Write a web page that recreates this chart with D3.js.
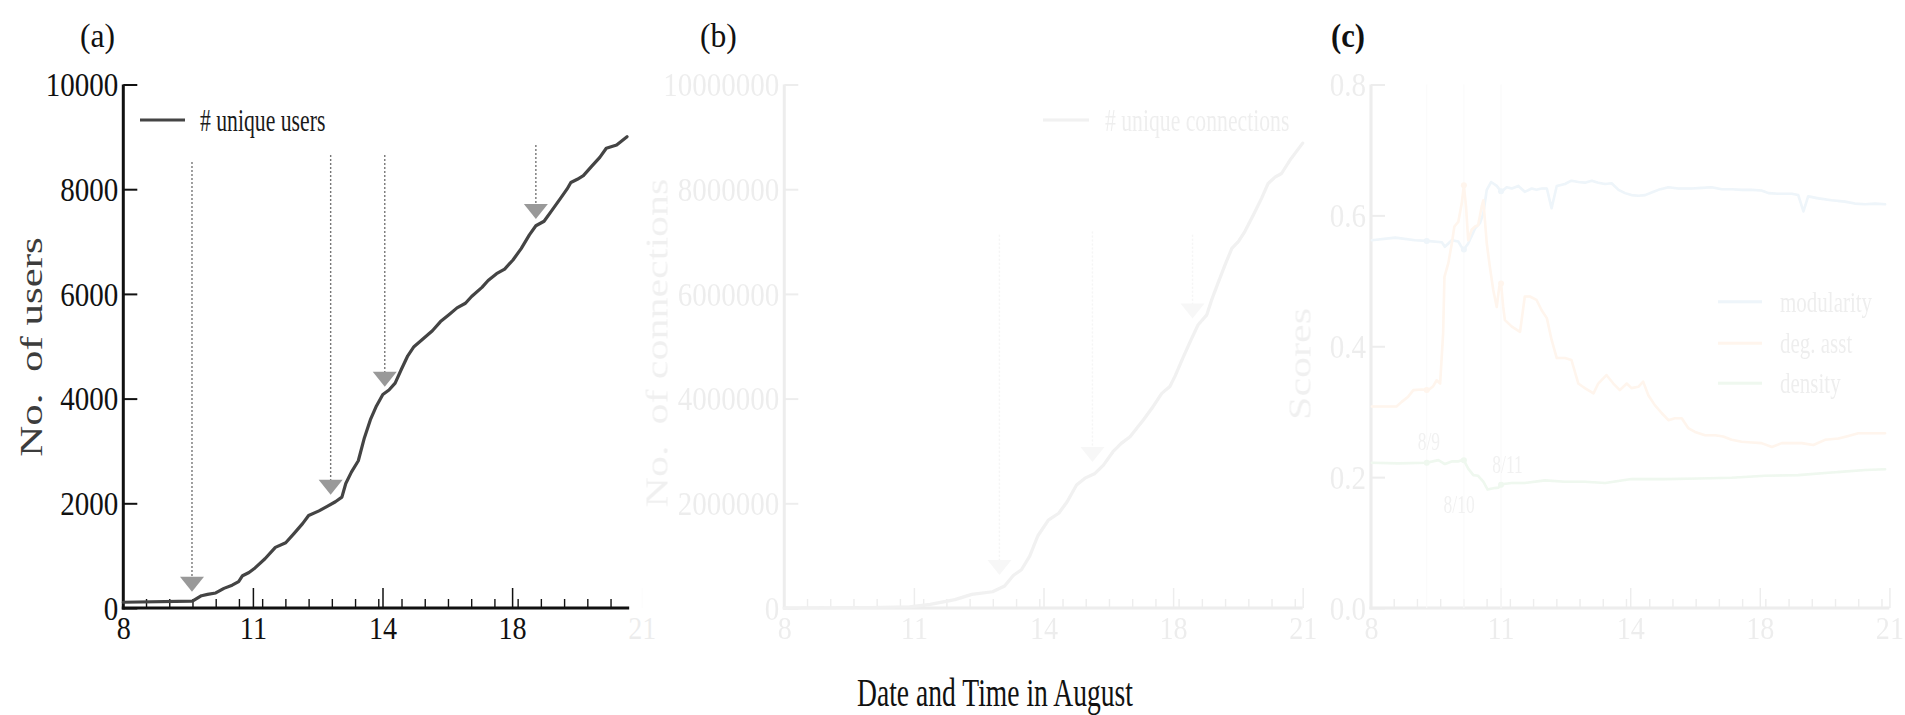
<!DOCTYPE html>
<html><head><meta charset="utf-8">
<script src="https://cdn.jsdelivr.net/npm/d3@7"></script>
<style>
body{margin:0;background:#fff;}
svg{display:block;}
text{font-family:"Liberation Serif","Times New Roman",Times,serif;}
</style></head>
<body><svg id="chart" width="1905" height="715"></svg>
<script>
// ---------------- data ----------------
const xTickLabels = [8, 11, 14, 18, 21];

const usersDay = [8.0,9.6,9.81,9.95,10.14,10.33,10.52,10.67,10.76,10.91,11.05,11.28,11.52,11.76,11.95,12.15,12.29,12.53,12.72,12.91,13.06,13.15,13.28,13.44,13.58,13.72,13.86,14.01,14.2,14.39,14.58,14.78,14.97,15.22,15.54,15.79,16.05,16.3,16.56,16.75,17.07,17.26,17.52,17.77,18.02,18.21,18.4,18.55,18.74,18.93,19.12,19.27,19.36,19.51,19.65,19.84,20.03,20.18,20.42,20.66];
const usersVal = [110,130,235,260,287,375,436,505,617,678,766,940,1158,1246,1420,1611,1768,1856,1942,2030,2117,2377,2595,2813,3249,3598,3860,4078,4164,4296,4556,4818,4992,5123,5297,5471,5603,5733,5821,5951,6125,6257,6387,6474,6648,6866,7128,7302,7388,7606,7824,8000,8129,8190,8259,8435,8609,8783,8844,9001];
const usersTicks = [0,2000,4000,6000,8000,10000];
const usersArrowDay = [9.59,12.80,14.07,18.55];
const usersArrowTip = [311,2162,4227,7432];
const usersArrowTop = [8519,8653,8653,8844];

const connDay = [8,10,10.9,11.38,11.95,12.34,12.82,13.1,13.3,13.49,13.68,13.87,14.15,14.47,14.73,15.02,15.28,15.59,15.85,16.15,16.41,16.67,17.08,17.34,17.65,17.9,18.04,18.24,18.43,18.58,18.78,18.89,19.05,19.2,19.36,19.51,19.66,19.86,20.05,20.2,20.36,20.51,20.71,21.0];
const connVal = [0,10000,20000,70000,160000,260000,310000,420000,620000,730000,990000,1380000,1680000,1810000,2030000,2350000,2480000,2570000,2730000,2990000,3150000,3270000,3590000,3810000,4100000,4230000,4420000,4800000,5150000,5410000,5600000,5880000,6230000,6550000,6870000,7000000,7190000,7510000,7830000,8110000,8230000,8300000,8560000,8880000];
const connTicks = [0,2000000,4000000,6000000,8000000,10000000];
const connArrowDay = [12.98,15.51,18.45];
const connArrowTip = [630000,2790000,5530000];
const connArrowTop = [7130000,7190000,7130000];

const modDay = [8.02,8.56,9.02,9.29,9.64,9.71,9.87,10.02,10.14,10.25,10.41,10.52,10.60,10.68,10.78,10.91,11.02,11.14,11.26,11.41,11.56,11.72,11.83,11.95,12.07,12.18,12.30,12.49,12.64,12.80,12.95,13.11,13.26,13.42,13.57,13.73,13.88,14.04,14.25,14.46,14.66,14.87,15.18,15.48,15.90,16.21,16.51,16.82,17.13,17.44,17.75,18.04,18.20,18.43,18.74,18.89,19.01,19.12,19.36,19.66,19.97,20.20,20.44,20.67,20.90];
const modVal = [0.562,0.566,0.562,0.561,0.559,0.552,0.562,0.560,0.547,0.557,0.580,0.588,0.603,0.639,0.651,0.645,0.636,0.643,0.641,0.645,0.636,0.641,0.639,0.641,0.641,0.611,0.645,0.648,0.653,0.651,0.650,0.653,0.650,0.648,0.649,0.639,0.634,0.631,0.630,0.631,0.635,0.639,0.643,0.641,0.641,0.642,0.643,0.640,0.640,0.639,0.639,0.638,0.634,0.633,0.633,0.631,0.606,0.629,0.626,0.623,0.621,0.618,0.617,0.618,0.617];

const degDay = [8.02,8.59,8.71,8.86,8.98,9.17,9.33,9.44,9.52,9.60,9.67,9.70,9.79,9.87,9.93,10.02,10.10,10.15,10.20,10.25,10.33,10.41,10.48,10.56,10.60,10.68,10.75,10.83,10.91,10.97,11.01,11.06,11.10,11.26,11.45,11.56,11.68,11.83,11.95,12.07,12.18,12.30,12.49,12.64,12.80,12.95,13.15,13.26,13.45,13.61,13.76,13.92,14.04,14.25,14.40,14.56,14.76,14.97,15.18,15.38,15.59,15.79,16.00,16.31,16.62,16.87,17.13,17.44,17.75,18.04,18.28,18.51,18.74,18.97,19.24,19.51,19.82,20.05,20.28,20.59,20.90];
const degVal = [0.308,0.308,0.315,0.323,0.333,0.334,0.333,0.339,0.348,0.343,0.420,0.506,0.527,0.557,0.583,0.590,0.618,0.646,0.613,0.562,0.578,0.583,0.585,0.613,0.623,0.557,0.522,0.486,0.460,0.491,0.496,0.460,0.440,0.430,0.422,0.476,0.476,0.471,0.455,0.443,0.410,0.382,0.382,0.379,0.343,0.336,0.328,0.343,0.356,0.343,0.333,0.343,0.336,0.338,0.346,0.325,0.310,0.298,0.287,0.290,0.290,0.275,0.269,0.264,0.264,0.262,0.257,0.254,0.253,0.252,0.246,0.252,0.252,0.252,0.249,0.257,0.259,0.263,0.267,0.267,0.267];

const denDay = [8.02,8.63,9.29,9.56,9.71,9.87,10.02,10.14,10.25,10.37,10.48,10.60,10.70,10.83,10.95,11.02,11.26,11.56,12.03,12.49,12.95,13.42,14.04,15.08,16.10,17.13,18.12,18.89,19.66,20.44,20.90];
const denVal = [0.222,0.221,0.222,0.226,0.220,0.224,0.224,0.227,0.213,0.203,0.202,0.193,0.181,0.183,0.184,0.189,0.191,0.191,0.195,0.193,0.193,0.191,0.197,0.197,0.198,0.199,0.202,0.203,0.207,0.211,0.212];

const scoreTicks = [0,0.2,0.4,0.6,0.8];
const markDay = [9.29,10.15,11.01];
const markLabel = ["8/9","8/10","8/11"];
const markLabelDay = [9.34,10.04,11.16];
const markLabelVal = [0.241,0.145,0.206];

const seriesNames = ["modularity","deg. asst","density"];
const seriesColors = ["#1f77b4","#ff7f0e","#2ca02c"];

// ---------------- layout ----------------
const svg = d3.select("#chart");
const FONT = '"Liberation Serif","Times New Roman",serif';
const STEP = 129.6;           // px between labelled x ticks
const MINOR = STEP / 5.58;    // px between minor x ticks
const Y_BOTTOM = 608, Y_TOP = 84.5;
const FADE = 0.075;
const INK = "#111";

function txt(g, str, x, y, size, sx, anchor, opts = {}) {
  const t = g.append("text")
    .attr("transform", `translate(${x},${y}) scale(${sx},1)`)
    .attr("text-anchor", anchor || "start")
    .attr("font-size", size)
    .attr("font-family", FONT)
    .attr("fill", opts.fill || INK)
    .style("white-space", "pre")
    .text(str);
  if (opts.weight) t.attr("font-weight", opts.weight);
  return t;
}

function makePanel(cfg) {
  const g = svg.append("g").attr("opacity", cfg.fade ? FADE : 1);
  const x = d3.scaleLinear().domain(xTickLabels)
    .range(xTickLabels.map((d, i) => cfg.left + i * STEP));
  const y = d3.scaleLinear().domain([0, cfg.yMax]).range([Y_BOTTOM, Y_TOP]);
  const x0 = x(xTickLabels[0]);
  const xEnd = x(cfg.endDay);

  // minor x ticks
  const nMinor = Math.floor((xEnd - x0) / MINOR + 1e-6);
  const minorDays = d3.range(1, nMinor + 1).map(k => x.invert(x0 + k * MINOR));
  g.append("g").selectAll("line").data(minorDays).join("line")
    .attr("x1", d => x(d)).attr("x2", d => x(d))
    .attr("y1", Y_BOTTOM).attr("y2", Y_BOTTOM - 9)
    .attr("stroke", INK).attr("stroke-width", 1.4);

  // bottom axis (labelled ticks)
  const xa = g.append("g").attr("transform", `translate(0,${Y_BOTTOM})`)
    .call(d3.axisBottom(x).tickValues(xTickLabels).tickFormat(d3.format("d")).tickSize(-20).tickSizeOuter(0));
  xa.select(".domain").remove();
  xa.selectAll(".tick line").attr("stroke", INK).attr("stroke-width", 1.5);
  xa.selectAll(".tick text").attr("y", null).attr("dy", "0.70em")
    .attr("transform", "translate(0,9) scale(0.88,1)")
    .attr("font-size", 32).attr("font-family", FONT).attr("fill", INK);
  xa.selectAll(".tick").filter(d => d > cfg.endDay + 1e-6 || d === xTickLabels[0])
    .select("line").attr("opacity", d => d === xTickLabels[0] ? 0 : FADE);
  xa.selectAll(".tick").filter(d => d > cfg.endDay + 1e-6).attr("opacity", FADE);

  // left axis
  const ya = g.append("g").attr("transform", `translate(${x0},0)`)
    .call(d3.axisLeft(y).tickValues(cfg.yTicks).tickFormat(cfg.fmt).tickSize(-14).tickPadding(0).tickSizeOuter(0));
  ya.select(".domain").remove();
  ya.selectAll(".tick line").attr("stroke", INK).attr("stroke-width", 2);
  ya.selectAll(".tick text").attr("x", null).attr("dy", "0.34em")
    .attr("transform", "translate(-5,0) scale(0.88,1)")
    .attr("font-size", 33).attr("font-family", FONT).attr("fill", INK);

  // axis lines
  g.append("line").attr("x1", x0).attr("x2", x0).attr("y1", Y_BOTTOM + 1.5).attr("y2", y(cfg.yMax))
    .attr("stroke", INK).attr("stroke-width", 3);
  g.append("line").attr("x1", x0 - 1.5).attr("x2", xEnd).attr("y1", Y_BOTTOM).attr("y2", Y_BOTTOM)
    .attr("stroke", INK).attr("stroke-width", 3.2);

  // y label
  g.append("text")
    .attr("transform", `translate(${cfg.ylabX},${cfg.ylabY}) rotate(-90) scale(1,0.75)`)
    .attr("text-anchor", "middle").attr("font-size", cfg.ylabSize || 43)
    .attr("font-family", FONT).attr("fill", "#3c3c3c")
    .style("white-space", "pre").text(cfg.ylab);

  return { g, x, y };
}

function arrows(p, days, tips, tops) {
  const gg = p.g.append("g");
  days.forEach((d, i) => {
    const ax = p.x(d), yt = p.y(tips[i]), y0 = p.y(tops[i]);
    gg.append("line").attr("x1", ax).attr("x2", ax).attr("y1", y0).attr("y2", yt - 8)
      .attr("stroke", "#777").attr("stroke-width", 1.4).attr("stroke-dasharray", "2,2");
    gg.append("path").attr("d", `M${ax - 12},${yt - 15}L${ax + 12},${yt - 15}L${ax},${yt}Z`)
      .attr("fill", "#999");
  });
}

function curve(p, xs, ys, color, width) {
  const pts = xs.map((d, i) => [d, ys[i]]);
  p.g.append("path").datum(pts)
    .attr("d", d3.line().x(d => p.x(d[0])).y(d => p.y(d[1])))
    .attr("fill", "none").attr("stroke", color).attr("stroke-width", width)
    .attr("stroke-linejoin", "round").attr("stroke-linecap", "round");
}

// ---------- panel (a) ----------
const pa = makePanel({ left: 123.3, endDay: 20.71, yMax: 10000, yTicks: usersTicks, fmt: d3.format("d"),
  ylab: "No.  of users", ylabX: 42, ylabY: 347, fade: false });
arrows(pa, usersArrowDay, usersArrowTip, usersArrowTop);
curve(pa, usersDay, usersVal, "#444", 3.2);
pa.g.append("line").attr("x1", 140).attr("x2", 185).attr("y1", 120).attr("y2", 120)
  .attr("stroke", "#444").attr("stroke-width", 3.2);
txt(pa.g, "# unique users", 200, 130.7, 31, 0.70, "start", { fill: "#1a1a1a" });

// ---------- panel (b) ----------
const pb = makePanel({ left: 784.3, endDay: 21, yMax: 10000000, yTicks: connTicks, fmt: d3.format("d"),
  ylab: "No.  of connections", ylabX: 667, ylabY: 343, ylabSize: 42, fade: true });
arrows(pb, connArrowDay, connArrowTip, connArrowTop);
curve(pb, connDay, connVal, "#444", 3.2);
pb.g.append("line").attr("x1", 1043).attr("x2", 1089).attr("y1", 120).attr("y2", 120)
  .attr("stroke", "#444").attr("stroke-width", 3.2);
txt(pb.g, "# unique connections", 1105, 130.7, 31, 0.70, "start", { fill: "#1a1a1a" });

// ---------- panel (c) ----------
const pc = makePanel({ left: 1371, endDay: 21, yMax: 0.8, yTicks: scoreTicks, fmt: d3.format(".1f"),
  ylab: "Scores", ylabX: 1310, ylabY: 364, ylabSize: 42, fade: true });
markDay.forEach(d => {
  pc.g.append("line").attr("x1", pc.x(d)).attr("x2", pc.x(d)).attr("y1", pc.y(0)).attr("y2", pc.y(0.8))
    .attr("stroke", "#bbb").attr("stroke-width", 1);
});
const sDays = [modDay, degDay, denDay], sVals = [modVal, degVal, denVal];
sDays.forEach((ds, k) => {
  curve(pc, ds, sVals[k], seriesColors[k], 2.6);
  const interp = d3.scaleLinear().domain(ds).range(sVals[k]);
  markDay.forEach(d => {
    pc.g.append("circle").attr("cx", pc.x(d)).attr("cy", pc.y(interp(d))).attr("r", 3)
      .attr("fill", seriesColors[k]);
  });
});
markLabel.forEach((s, i) => {
  txt(pc.g, s, pc.x(markLabelDay[i]), pc.y(markLabelVal[i]), 25, 0.70, "middle", { fill: "#444" });
});
const legY = [301.7, 343.3, 383.3];
seriesNames.forEach((s, i) => {
  pc.g.append("line").attr("x1", 1718).attr("x2", 1762).attr("y1", legY[i]).attr("y2", legY[i])
    .attr("stroke", seriesColors[i]).attr("stroke-width", 3);
  txt(pc.g, s, 1780, legY[i] + 10, 30, 0.70, "start", { fill: "#1a1a1a" });
});

// ---------- titles ----------
txt(svg, "(a)", 80, 46.5, 34, 0.93, "start");
txt(svg, "(b)", 700, 46.5, 34, 0.93, "start");
txt(svg, "(c)", 1331, 46.5, 34, 0.90, "start", { weight: "bold" });
txt(svg, "Date and Time in August", 995, 706, 40, 0.69, "middle");
</script>
</body></html>
